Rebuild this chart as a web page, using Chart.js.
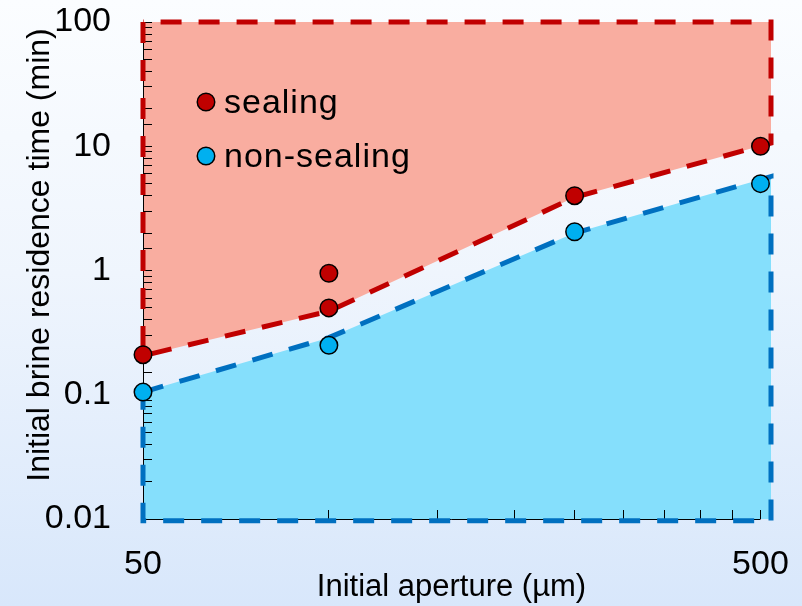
<!DOCTYPE html>
<html>
<head>
<meta charset="utf-8">
<script src="https://cdn.jsdelivr.net/npm/chart.js@4.4.1/dist/chart.umd.min.js"></script>
<style>
  html, body { margin: 0; padding: 0; }
  body {
    width: 802px; height: 606px; overflow: hidden;
    background: linear-gradient(to bottom, #fbfdff 0%, #eff5fd 45%, #d8e7fb 100%);
  }
  canvas { display: block; }
</style>
</head>
<body>
<canvas id="c" width="802" height="606"></canvas>
<script>
// Axis ranges and tick marks
const xRange = [50, 520];
const yRange = [0.01, 100];
const xTickValues = [50, 100, 150, 200, 250, 300, 350, 400, 450, 500];
const xTickLabels = { 50: '50', 500: '500' };
const yTickLabels = ['0.01', '0.1', '1', '10', '100'];

// Experiments: initial aperture (µm) vs initial brine residence time (min)
const sealingX = [50, 100, 100, 250, 500];
const sealingY = [0.21, 0.95, 0.5, 4, 10];
const nonSealingX = [50, 100, 250, 500];
const nonSealingY = [0.105, 0.25, 2.05, 5];

// Regime outlines (closed polygons)
const sealingZoneX = [50, 50, 100, 250, 520, 520, 50];
const sealingZoneY = [100, 0.206, 0.47, 3.88, 10.6, 100, 100];
const nonSealingZoneX = [50, 100, 250, 520, 520, 50, 50];
const nonSealingZoneY = [0.105, 0.288, 2.0, 5.7, 0.0097, 0.0097, 0.105];

const seriesNames = ['sealing', 'non-sealing'];

const RED = '#c00000';
const BLUE = '#0070c0';
const RED_MARK = '#c00000';
const BLUE_MARK = '#00b0f0';
const FONT = '"Liberation Sans", Arial, Helvetica, sans-serif';

const pairs = (xs, ys) => xs.map((x, i) => ({ x, y: ys[i] }));

function zone(label, xs, ys, fillColor, lineColor) {
  return {
    label, data: pairs(xs, ys),
    showLine: true, fill: 'shape', tension: 0,
    backgroundColor: fillColor, borderColor: lineColor,
    borderWidth: 5, borderDash: [21, 17], borderCapStyle: 'butt', borderJoinStyle: 'miter',
    pointRadius: 0, clip: false
  };
}

function markers(label, xs, ys, color) {
  return {
    label, data: pairs(xs, ys), showLine: false,
    pointRadius: 8.75, pointBorderWidth: 1.5,
    pointBackgroundColor: color, pointBorderColor: '#000',
    backgroundColor: color, borderColor: '#000', clip: false
  };
}

// bottom axis line spans the labelled range only
const axisLine = {
  id: 'axisLine',
  beforeDatasetsDraw(chart) {
    const xs = chart.scales.x, ctx = chart.ctx;
    const y = Math.round(chart.chartArea.bottom) + 0.5;
    ctx.save();
    ctx.strokeStyle = '#000'; ctx.lineWidth = 1;
    ctx.beginPath();
    ctx.moveTo(xs.getPixelForValue(xTickValues[0]), y);
    ctx.lineTo(xs.getPixelForValue(xTickValues[xTickValues.length - 1]), y);
    ctx.stroke();
    ctx.restore();
  }
};

// axis titles and the in-plot legend
const annotations = {
  id: 'annotations',
  afterDraw(chart) {
    const ctx = chart.ctx, a = chart.chartArea;
    ctx.save();
    ctx.fillStyle = '#000';

    ctx.font = '31px ' + FONT;
    ctx.textAlign = 'center';
    ctx.textBaseline = 'alphabetic';
    ctx.fillText('Initial aperture (µm)', a.left + 308.5, a.bottom + 77);

    ctx.save();
    ctx.translate(a.left - 94, (a.top + a.bottom) / 2 - 15.5);
    ctx.rotate(-Math.PI / 2);
    ctx.font = '32px ' + FONT;
    ctx.textAlign = 'center';
    ctx.fillText('Initial brine residence time (min)', 0, 0);
    ctx.restore();

    const colors = [RED_MARK, BLUE_MARK];
    ctx.font = '34px ' + FONT;
    ctx.textAlign = 'left';
    ctx.textBaseline = 'alphabetic';
    if ('letterSpacing' in ctx) ctx.letterSpacing = '1px';
    seriesNames.forEach((name, i) => {
      const cy = a.top + 80 + i * 54;
      ctx.beginPath();
      ctx.arc(a.left + 63, cy, 8.75, 0, Math.PI * 2);
      ctx.fillStyle = colors[i];
      ctx.fill();
      ctx.lineWidth = 1.5;
      ctx.strokeStyle = '#000';
      ctx.stroke();
      ctx.fillStyle = '#000';
      ctx.fillText(name, a.left + 81, cy + 11);
    });
    ctx.restore();
  }
};

new Chart(document.getElementById('c'), {
  type: 'line',
  data: {
    datasets: [
      markers(seriesNames[0], sealingX, sealingY, RED_MARK),
      markers(seriesNames[1], nonSealingX, nonSealingY, BLUE_MARK),
      zone('sealing zone', sealingZoneX, sealingZoneY, '#f9ada0', RED),
      zone('non-sealing zone', nonSealingZoneX, nonSealingZoneY, '#85dffc', BLUE)
    ]
  },
  options: {
    responsive: false,
    animation: false,
    devicePixelRatio: 1,
    events: [],
    layout: { padding: { top: 22, right: 31, bottom: 0, left: 0 } },
    plugins: {
      legend: { display: false },
      tooltip: { enabled: false },
      filler: { drawTime: 'beforeDraw' }
    },
    scales: {
      x: {
        type: 'logarithmic', position: 'bottom',
        min: xRange[0], max: xRange[1],
        afterBuildTicks: s => { s.ticks = xTickValues.map(v => ({ value: v })); },
        afterFit: s => { s.height = 87; s.paddingLeft = 0; s.paddingRight = 0; },
        ticks: {
          autoSkip: false, maxRotation: 0, minRotation: 0, padding: 34,
          color: '#000', font: { family: FONT, size: 34 },
          callback: v => xTickLabels[v] || ''
        },
        grid: { drawOnChartArea: false, drawTicks: true, tickLength: -9, tickColor: '#000', tickWidth: 1 },
        border: { display: false }
      },
      y: {
        type: 'logarithmic', position: 'left',
        min: yRange[0], max: yRange[1],
        afterFit: s => { s.width = 143; s.paddingTop = 0; s.paddingBottom = 0; },
        ticks: {
          autoSkip: false, padding: 41,
          color: '#000', font: { family: FONT, size: 34 },
          callback: v => {
            const e = Math.log10(v);
            if (Math.abs(e - Math.round(e)) > 1e-6) return '';
            return yTickLabels[Math.round(e) - Math.round(Math.log10(yRange[0]))] || '';
          }
        },
        grid: { drawOnChartArea: false, drawTicks: true, tickLength: -9, tickColor: '#000', tickWidth: 1 },
        border: { display: true, color: '#000', width: 1 }
      }
    }
  },
  plugins: [axisLine, annotations]
});
</script>
</body>
</html>
